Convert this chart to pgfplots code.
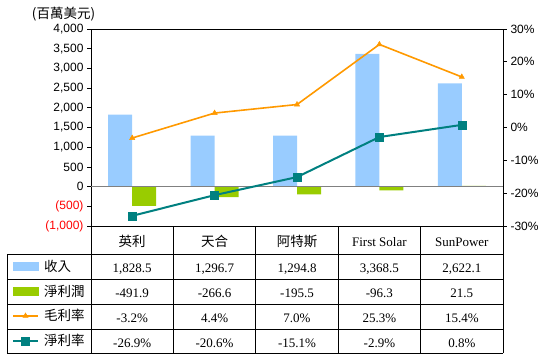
\documentclass[border=0pt]{standalone}
\usepackage{pgfplots}
\pgfplotsset{compat=1.18}
\usepackage{fontspec}
\setmainfont{Liberation Serif}
\newfontfamily\cjk{Noto Sans CJK TC}
\newfontfamily\tickfont{Liberation Sans}
\definecolor{barblue}{HTML}{99CCFF}
\definecolor{bargreen}{HTML}{99CC00}
\definecolor{gmorange}{HTML}{FF9900}
\definecolor{nmteal}{HTML}{008080}
\newcommand\tf{\tickfont\fontsize{12}{14}\selectfont}
\newcommand\tabf{\fontsize{13}{15}\selectfont}
\newcommand\cf{\cjk\fontsize{13.5}{15}\selectfont}

\begin{document}
\begin{tikzpicture}
\useasboundingbox (0pt,0pt) rectangle (549pt,357pt);
\begin{axis}[
  at={(91pt,131pt)}, anchor=south west, scale only axis,
  width=412pt, height=197pt,
  xmin=-0.5, xmax=4.5, ymin=-1000, ymax=4000,
  xtick=\empty,
  ytick={-1000,-500,0,500,1000,1500,2000,2500,3000,3500,4000},
  yticklabels={\textcolor{red}{(1,000)},\textcolor{red}{(500)},0,500,{1,000},{1,500},{2,000},{2,500},{3,000},{3,500},{4,000}},
  ytick pos=left, tick align=outside, major tick length=4pt,
  yticklabel style={font=\tf},
  axis line style={black, line width=0.8pt},
  tick style={black, line width=0.8pt},
  clip=false,
]
\addplot[ybar, bar width=24pt, bar shift=-12pt, fill=barblue, draw=none] coordinates {(0,1828.5)(1,1296.7)(2,1294.8)(3,3368.5)(4,2622.1)};
\addplot[ybar, bar width=24pt, bar shift=12pt, fill=bargreen, draw=none] coordinates {(0,-491.9)(1,-266.6)(2,-195.5)(3,-96.3)(4,21.5)};
\draw[color=gray, line width=1pt] (axis cs:-0.5,0) -- (axis cs:4.5,0);
\end{axis}
\begin{axis}[
  at={(91pt,131pt)}, anchor=south west, scale only axis,
  width=412pt, height=197pt,
  xmin=-0.5, xmax=4.5, ymin=-30, ymax=30,
  axis x line=none, axis y line*=right,
  ytick={-30,-20,-10,0,10,20,30},
  yticklabels={-30\%,-20\%,-10\%,0\%,10\%,20\%,30\%},
  tick align=outside, major tick length=4pt,
  yticklabel style={font=\tf},
  axis line style={black, line width=0.8pt},
  tick style={black, line width=0.8pt},
  clip=false,
  legend image code/.code={\draw[mark repeat=2,mark phase=2,#1] plot coordinates {(0pt,0pt)(12.5pt,0pt)(25pt,0pt)};},
  legend cell align=left,
  legend style={at={(axis description cs:-0.1917,-0.1421)}, anchor=north west,
    draw=none, fill=none, inner sep=0pt, outer sep=0pt, row sep=0pt, column sep=5pt,
    font=\cf, nodes={inner sep=0pt, minimum height=24.8pt}},
]
\addlegendimage{legend image code/.code={\fill[barblue] (0pt,-4pt) rectangle (25pt,4pt);}}
\addlegendimage{legend image code/.code={\fill[bargreen] (0pt,-4pt) rectangle (25pt,4pt);}}
\addplot[gmorange, line width=1.6pt, mark=triangle*, mark size=3pt, mark options={solid, line width=0.5pt}] coordinates {(0,-3.2)(1,4.4)(2,7.0)(3,25.3)(4,15.4)};
\addplot[nmteal, line width=2pt, mark=square*, mark size=4pt, mark options={solid, line width=0.3pt}] coordinates {(0,-26.9)(1,-20.6)(2,-15.1)(3,-2.9)(4,0.8)};
\legend{收入,淨利潤,毛利率,淨利率}
\end{axis}
\begin{scope}[x=1pt,y=1pt]
% title
\node[font=\cf] at (63.5,343) {(百萬美元)};
% table grid
\begin{scope}[line width=0.8pt, black]
\foreach \yy in {103,78,53,28,4} {\draw (7,\yy) -- (503,\yy);}
\draw (7,4) -- (7,103);
\foreach \xx in {91,173.4,255.8,338.2,420.6,503} {\draw (\xx,4) -- (\xx,131);}
\end{scope}
% header
\node[anchor=base, font=\cf] at (132.2,110.5) {英利};
\node[anchor=base, font=\cf] at (214.6,110.5) {天合};
\node[anchor=base, font=\cf] at (297,110.5) {阿特斯};
\node[anchor=base, font=\tabf] at (379.4,110.5) {First Solar};
\node[anchor=base, font=\tabf] at (461.8,110.5) {SunPower};
% rows
\foreach \xx/\a/\b/\c/\d in {132.2/{1,828.5}/-491.9/-3.2\%/-26.9\%, 214.6/{1,296.7}/-266.6/4.4\%/-20.6\%, 297/{1,294.8}/-195.5/7.0\%/-15.1\%, 379.4/{3,368.5}/-96.3/25.3\%/-2.9\%, 461.8/{2,622.1}/21.5/15.4\%/0.8\%} {
  \node[anchor=base, font=\tabf] at (\xx,84.3) {\a};
  \node[anchor=base, font=\tabf] at (\xx,59.3) {\b};
  \node[anchor=base, font=\tabf] at (\xx,34.3) {\c};
  \node[anchor=base, font=\tabf] at (\xx,9.6) {\d};
}
\end{scope}
\end{tikzpicture}
\end{document}
